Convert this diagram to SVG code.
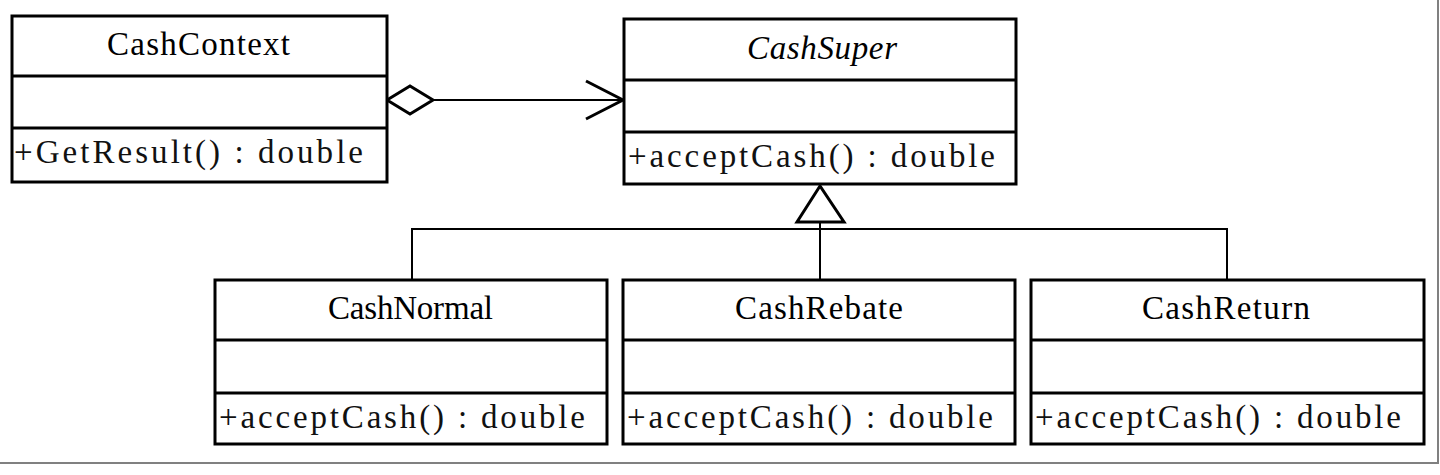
<svg xmlns="http://www.w3.org/2000/svg" width="1440" height="475" viewBox="0 0 1440 475">
<style>
.box{fill:#fff;stroke:#000;stroke-width:3}
.div{stroke:#000;stroke-width:3}
.t{font-family:"Liberation Serif","Times New Roman",serif;font-size:33px;fill:#000}
.m{font-family:"Liberation Serif","Times New Roman",serif;font-size:33px;fill:#111}
.c{fill:none;stroke:#000;stroke-width:2}
.h{fill:#fff;stroke:#000;stroke-width:3;stroke-linejoin:miter}
.frame{stroke:#808080;stroke-width:2}
</style>
<rect width="1440" height="475" fill="#fff"/>
<line class="frame" x1="1438" y1="0" x2="1438" y2="464"/>
<line class="frame" x1="0" y1="463" x2="1439" y2="463"/>
<g id="connectors">
<line class="c" x1="433" y1="100" x2="623" y2="100"/>
<polyline class="h" points="586,81 623,100 586,119" style="fill:none"/>
<polygon class="h" points="387,100 410,86 433,100 410,114"/>
<polyline class="c" points="412,280 412,229 1227,229 1227,280"/>
<line class="c" x1="820" y1="222" x2="820" y2="280"/>
<polygon class="h" points="820,186 797,222 844,222"/>
</g>
<g id="CashContext">
<rect class="box" x="12" y="16" width="375" height="166"/>
<line class="div" x1="12" y1="76" x2="387" y2="76"/>
<line class="div" x1="12" y1="128" x2="387" y2="128"/>
<text class="t" x="107" y="55" textLength="183">CashContext</text>
<text class="m" x="14" y="163" textLength="349">+GetResult() : double</text>
</g>
<g id="CashSuper">
<rect class="box" x="624" y="19" width="392" height="165"/>
<line class="div" x1="624" y1="80" x2="1016" y2="80"/>
<line class="div" x1="624" y1="132" x2="1016" y2="132"/>
<text class="t" x="747" y="59" textLength="150" font-style="italic">CashSuper</text>
<text class="m" x="628" y="167" textLength="367">+acceptCash() : double</text>
</g>
<g id="CashNormal">
<rect class="box" x="215" y="280" width="392" height="164"/>
<line class="div" x1="215" y1="340" x2="607" y2="340"/>
<line class="div" x1="215" y1="393" x2="607" y2="393"/>
<text class="t" x="328" y="319" textLength="165">CashNormal</text>
<text class="m" x="219" y="428" textLength="366">+acceptCash() : double</text>
</g>
<g id="CashRebate">
<rect class="box" x="623" y="280" width="392" height="164"/>
<line class="div" x1="623" y1="340" x2="1015" y2="340"/>
<line class="div" x1="623" y1="393" x2="1015" y2="393"/>
<text class="t" x="735" y="319" textLength="168">CashRebate</text>
<text class="m" x="627" y="428" textLength="366">+acceptCash() : double</text>
</g>
<g id="CashReturn">
<rect class="box" x="1031" y="280" width="393" height="164"/>
<line class="div" x1="1031" y1="340" x2="1424" y2="340"/>
<line class="div" x1="1031" y1="393" x2="1424" y2="393"/>
<text class="t" x="1142" y="319" textLength="168">CashReturn</text>
<text class="m" x="1035" y="428" textLength="366">+acceptCash() : double</text>
</g>
</svg>
